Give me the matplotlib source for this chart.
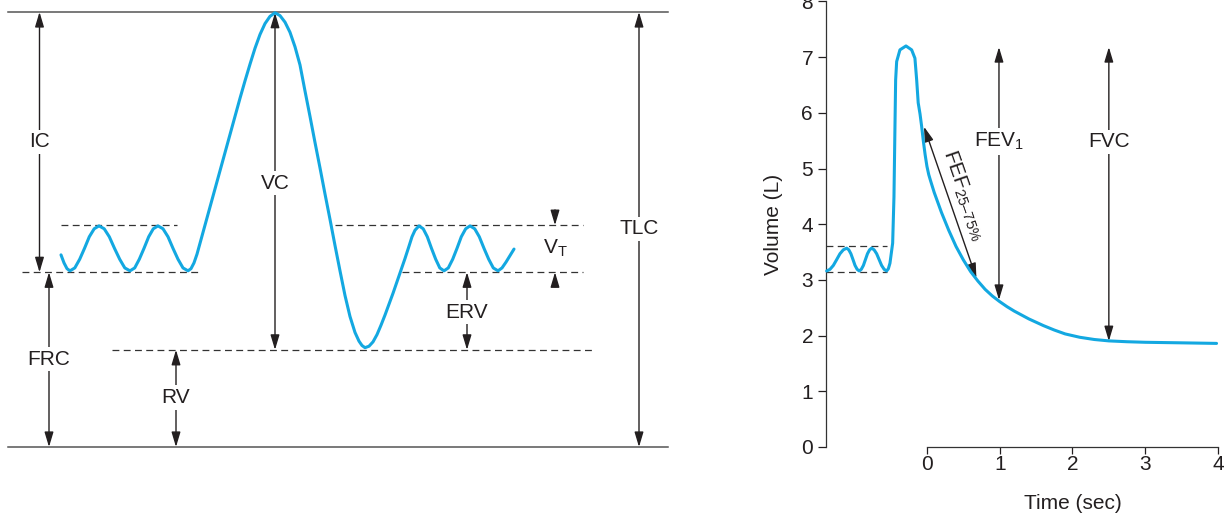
import matplotlib
matplotlib.use('Agg')
import matplotlib.pyplot as plt

plt.rcParams['font.family'] = ['Liberation Sans', 'DejaVu Sans']
plt.rcParams['mathtext.fontset'] = 'custom'
plt.rcParams['mathtext.rm'] = 'Liberation Sans'
plt.rcParams['mathtext.it'] = 'Liberation Sans:italic'
plt.rcParams['font.size'] = 15

BLUE = '#13a8e1'
INK = '#231f20'
DASH = (0, (5.5, 3.5))

# left panel: spirogram of lung volumes (time in arbitrary units, volume in L)
lung_t = [6.1, 6.4, 6.7, 7.0,
          7.48, 7.97, 8.45, 8.93, 9.42, 9.9,
          10.42, 10.93, 11.45, 11.97, 12.48, 13.0,
          13.47, 13.93, 14.4, 14.87, 15.33, 15.8,
          16.3, 16.8, 17.3, 17.8, 18.3, 18.8,
          19.1, 19.4, 19.7, 20.0, 20.5, 21.0, 21.5, 22.0, 22.5, 23.0, 23.5,
          24.0, 24.5, 25.0, 25.5, 26.0, 26.5, 27.0, 27.5,
          28.0, 28.5, 29.0, 29.5, 30.0, 30.5, 31.0, 31.5, 32.0, 32.5, 33.0,
          33.5, 34.0, 34.5, 35.0, 35.5, 35.9, 36.2, 36.5,
          36.9, 37.3, 37.7, 38.1, 38.5, 38.9, 39.3, 39.7, 40.1, 40.5, 40.9,
          41.2, 41.5, 41.9,
          42.32, 42.73, 43.15, 43.57, 43.98, 44.4,
          44.83, 45.27, 45.7, 46.13, 46.57, 47.0,
          47.47, 47.93, 48.4, 48.87, 49.33, 49.8,
          50.2, 50.6, 51.0, 51.4]
lung_v = [2.65, 2.54, 2.46, 2.43,
          2.47, 2.59, 2.74, 2.90, 3.01, 3.05,
          3.01, 2.90, 2.74, 2.59, 2.47, 2.43,
          2.47, 2.59, 2.74, 2.90, 3.01, 3.05,
          3.01, 2.90, 2.74, 2.59, 2.47, 2.43,
          2.46, 2.54, 2.66, 2.81, 3.06, 3.31, 3.56, 3.81, 4.06, 4.31, 4.56,
          4.81, 5.05, 5.28, 5.50, 5.69, 5.84, 5.94, 5.99,
          5.95, 5.86, 5.72, 5.52, 5.27, 4.91, 4.56, 4.20, 3.85, 3.49, 3.14,
          2.78, 2.43, 2.09, 1.80, 1.58, 1.46, 1.40, 1.37,
          1.39, 1.45, 1.55, 1.68, 1.82, 1.97, 2.12, 2.28, 2.44, 2.60, 2.77,
          2.90, 2.99, 3.05,
          3.01, 2.90, 2.74, 2.59, 2.47, 2.43,
          2.47, 2.59, 2.74, 2.90, 3.01, 3.05,
          3.01, 2.90, 2.74, 2.59, 2.47, 2.43,
          2.47, 2.55, 2.64, 2.73]

tlc = 6.0
vt_top = 3.06
frc = 2.41
rv = 1.34

# right panel: forced expiration (time in s, volume in L)
fvc_t = [-1.378, -1.332, -1.286, -1.240, -1.195, -1.149, -1.103,
         -1.074, -1.045, -1.016, -0.988, -0.959, -0.930,
         -0.902, -0.873, -0.845, -0.817, -0.788, -0.760,
         -0.726, -0.691, -0.657, -0.623, -0.588, -0.554,
         -0.530, -0.508, -0.471, -0.453, -0.440, -0.430, -0.416, -0.371,
         -0.288, -0.210, -0.165, -0.141, -0.120, -0.095, -0.073, -0.05, -0.025,
         0.0, 0.025, 0.05, 0.1, 0.2, 0.3, 0.4, 0.5, 0.6, 0.7, 0.8, 0.9,
         1.0, 1.1, 1.2, 1.3, 1.4, 1.5, 1.6, 1.75, 1.9, 2.1, 2.3, 2.5,
         2.75, 3.0, 3.5, 3.98]
fvc_v = [3.16, 3.19, 3.26, 3.365, 3.47, 3.54, 3.57,
         3.54, 3.47, 3.365, 3.26, 3.19, 3.16,
         3.19, 3.26, 3.365, 3.47, 3.54, 3.57,
         3.54, 3.47, 3.365, 3.26, 3.19, 3.16,
         3.20, 3.30, 3.66, 4.49, 5.69, 6.59, 6.92, 7.13,
         7.20, 7.13, 6.98, 6.59, 6.18, 5.98, 5.76, 5.50, 5.25,
         5.04, 4.89, 4.78, 4.57, 4.21, 3.89, 3.60, 3.36, 3.15, 2.98, 2.83, 2.71,
         2.61, 2.52, 2.44, 2.37, 2.30, 2.24, 2.18, 2.10, 2.03, 1.97, 1.93, 1.905,
         1.89, 1.88, 1.87, 1.86]

tidal_hi = 3.60
tidal_lo = 3.14
peak_v = 7.18
fev1_v = 2.64
fvc_end_v = 1.90
fef_t = [-0.04, 0.68]
fef_v = [5.75, 3.03]


def arrow(ax, x0, y0, x1, y1, style='<|-|>'):
    ax.annotate('', xy=(x1, y1), xytext=(x0, y0),
                arrowprops=dict(arrowstyle=style + ',head_length=0.6,head_width=0.18',
                                color=INK, lw=1.0, shrinkA=0, shrinkB=0,
                                mutation_scale=15))


def label(ax, x, y, s, **kw):
    ax.text(x, y, s, ha='center', va='center', color=INK, zorder=5,
            bbox=dict(facecolor='white', edgecolor='none', pad=2), **kw)


def hdash(ax, x0, x1, y):
    ax.plot([x0, x1], [y, y], ls=DASH, lw=0.9, color='#333333', clip_on=False)


def main():
    fig = plt.figure(figsize=(12.26, 5.13), dpi=100)

    # ---- left: lung volumes ----
    ax = fig.add_axes([0, 66 / 513, 680 / 1226, 435 / 513])
    ax.set_xlim(0, 68)
    ax.set_ylim(0, tlc)
    ax.axis('off')

    ax.plot([0.8, 66.8], [tlc, tlc], color='#555555', lw=1.1, clip_on=False)
    ax.plot([0.8, 66.8], [0, 0], color='#555555', lw=1.1, clip_on=False)
    hdash(ax, 6.1, 17.7, vt_top)
    hdash(ax, 2.2, 20.0, frc)
    hdash(ax, 33.5, 58.3, vt_top)
    hdash(ax, 40.2, 58.3, frc)
    hdash(ax, 11.2, 59.3, rv)

    ax.plot(lung_t, lung_v, color=BLUE, lw=2.2, clip_on=False,
            solid_joinstyle='round', solid_capstyle='round', zorder=4)

    arrow(ax, 3.95, tlc, 3.95, frc)
    label(ax, 3.95, 4.21, 'IC')
    arrow(ax, 4.9, frc, 4.9, 0)
    label(ax, 4.9, 1.21, 'FRC')
    arrow(ax, 27.5, 5.99, 27.5, rv)
    label(ax, 27.5, 3.64, 'VC')
    arrow(ax, 17.6, rv, 17.6, 0)
    label(ax, 17.6, 0.68, 'RV')
    arrow(ax, 63.9, tlc, 63.9, 0)
    label(ax, 63.9, 3.01, 'TLC')
    arrow(ax, 46.7, frc, 46.7, rv)
    label(ax, 46.7, 1.86, 'ERV')
    arrow(ax, 55.5, 3.27, 55.5, vt_top, style='-|>')
    arrow(ax, 55.5, 2.21, 55.5, frc, style='-|>')
    label(ax, 55.5, 2.74, r'V$_\mathrm{T}$')

    # ---- right: forced vital capacity ----
    ax2 = fig.add_axes([826 / 1226, 66 / 513, 392 / 1226, 445.6 / 513])
    ax2.set_xlim(-1.387, 4.0)
    ax2.set_ylim(0, 8)

    ax2.plot(fvc_t, fvc_v, color=BLUE, lw=2.2, clip_on=False,
             solid_joinstyle='round', solid_capstyle='round', zorder=4)
    hdash(ax2, -1.387, -0.554, tidal_hi)
    hdash(ax2, -1.387, -0.554, tidal_lo)

    arrow(ax2, fef_t[0], fef_v[0], fef_t[1], fef_v[1])
    ax2.text(0.508, 4.52, r'FEF$_{\mathrm{25–75\%}}$', rotation=-70.9,
             rotation_mode='anchor', ha='center', va='center', color=INK)
    arrow(ax2, 0.99, peak_v, 0.99, fev1_v)
    label(ax2, 0.99, 5.48, r'FEV$_\mathrm{1}$')
    arrow(ax2, 2.5, peak_v, 2.5, fvc_end_v)
    label(ax2, 2.5, 5.48, 'FVC')

    for side in ['top', 'right']:
        ax2.spines[side].set_visible(False)
    ax2.spines['bottom'].set_bounds(0, 4)
    ax2.spines['left'].set_bounds(0, 8)
    for side in ['bottom', 'left']:
        ax2.spines[side].set_color('#333333')
        ax2.spines[side].set_linewidth(0.9)
    ax2.set_xticks(range(5))
    ax2.set_yticks(range(9))
    ax2.tick_params(axis='y', length=5.8, width=0.9, pad=3.5, colors=INK)
    ax2.tick_params(axis='x', length=4.8, width=0.9, pad=1, colors=INK)
    ax2.set_ylabel('Volume (L)', color=INK)
    ax2.yaxis.set_label_coords(-0.11, 0.5)
    ax2.set_xlabel('Time (sec)', color=INK)
    ax2.xaxis.set_label_coords(0.63, -0.105)

    fig.savefig('out.png', dpi=100)


if __name__ == "__main__":
    main()
